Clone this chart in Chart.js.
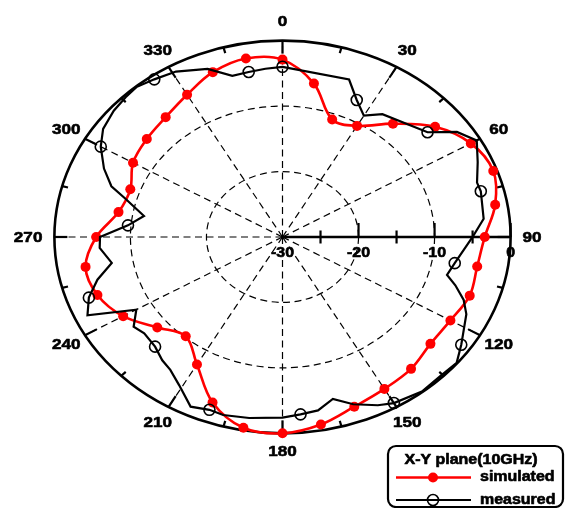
<!DOCTYPE html>
<html>
<head>
<meta charset="utf-8">
<script src="https://cdn.jsdelivr.net/npm/chart.js@4/dist/chart.umd.min.js"></script>
<style>
  html, body { margin: 0; padding: 0; background: #fff; }
  #wrap { width: 565px; height: 508px; position: relative; }
</style>
</head>
<body>
<div id="wrap"><canvas id="c" width="565" height="508"></canvas></div>
<script>
// Angular grid (degrees, clockwise from top) and its labels
const angleTicks = [0, 30, 60, 90, 120, 150, 180, 210, 240, 270, 300, 330];
const angleTickLabels = ['0', '30', '60', '90', '120', '150', '180', '210', '240', '270', '300', '330'];
const minorAngleStep = 15;

// Radial axis (dB), drawn along the 90 degree direction
const radialTicks = [-30, -20, -10, 0];
const radialTickLabels = ['-30', '-20', '-10', '0'];
const radialMinorStep = 5;
const radialMin = -30;
const radialMax = 0;
const radialAxisAngle = 90;

// Simulated pattern, one value every 10 degrees
const simulatedAngles = [0, 10, 20, 30, 40, 50, 60, 70, 80, 90, 100, 110, 120, 130, 140, 150, 160, 170,
  180, 190, 200, 210, 220, 230, 240, 250, 260, 270, 280, 290, 300, 310, 320, 330, 340, 350];
const simulatedDb = [-2.9, -6.2, -10.9, -10.4, -7.4, -3.8, -1.4, -0.5, -1.6, -3.4, -4.0, -3.8, -4.5, -4.6,
  -3.7, -3.2, -2.4, -0.9, 0.0, -0.4, -3.1, -7.5, -10.2, -8.5, -5.8, -4.1, -3.7, -5.5, -8.1, -8.7,
  -7.3, -6.7, -6.1, -4.9, -3.2, -2.3];

// Measured pattern
const measuredAngles = [0, 20, 25, 30, 35, 50, 55, 60, 66, 72, 75, 84, 90, 100, 105, 108, 112, 116, 122,
  125, 130, 136, 142, 150, 154, 160, 165, 170, 175, 180, 189, 196, 200, 205, 211, 216, 220, 225, 231,
  235, 240, 245, 250, 255, 260, 266, 270, 275, 280, 286, 289, 294, 300, 305, 311, 316, 320, 325, 331,
  339, 345, 350, 355];
const measuredDb = [-4.0, -4.4, -6.9, -8.6, -7.1, -5.1, -2.0, -0.5, -1.9, -3.1, -3.0, -3.4, -5.0, -7.0,
  -7.6, -6.1, -4.3, -3.1, -2.0, -1.3, -0.1, -0.3, -0.1, -0.7, -1.4, -2.8, -4.4, -3.1, -2.8, -2.4, -2.0,
  -1.7, -1.9, -1.4, -3.6, -4.9, -5.4, -6.3, -6.6, -6.1, -7.8, -1.7, -2.9, -4.8, -7.2, -5.9, -6.0, -9.6,
  -11.5, -8.4, -6.2, -4.3, -2.4, -1.2, -0.6, -0.3, -0.1, -0.6, -1.1, -2.5, -4.5, -4.4, -4.2];
const measuredMarkerAngles = [0, 25, 50, 75, 100, 125, 150, 175, 200, 225, 250, 275, 300, 325, 350];

const seriesNames = ['simulated', 'measured'];
const legendTitle = 'X-Y plane(10GHz)';

// Polar (angle, dB) -> normalised cartesian point on the unit plot
function toPoint(angleDeg, db) {
  const r = (db - radialMin) / (radialMax - radialMin);
  const a = angleDeg * Math.PI / 180;
  return { x: r * Math.sin(a), y: r * Math.cos(a), angle: angleDeg };
}

const simulatedPoints = simulatedAngles.map((a, i) => toPoint(a, simulatedDb[i]));
const measuredPoints = measuredAngles.map((a, i) => toPoint(a, measuredDb[i]));

const FONT = '"Liberation Sans", Arial, Helvetica, sans-serif';
const TEXT_STRETCH = 1.14;

// Bold text, widened horizontally and slightly outlined for weight
function stretchedText(ctx, text, x, y, align) {
  ctx.save();
  ctx.translate(x, y);
  ctx.scale(TEXT_STRETCH, 1);
  ctx.textAlign = align;
  ctx.textBaseline = 'middle';
  ctx.lineWidth = 0.6;
  ctx.strokeStyle = ctx.fillStyle;
  ctx.lineJoin = 'round';
  ctx.fillText(text, 0, 0);
  ctx.strokeText(text, 0, 0);
  ctx.restore();
}

function geometry(chart) {
  const { x, y } = chart.scales;
  const cx = x.getPixelForValue(0);
  const cy = y.getPixelForValue(0);
  const rx = x.getPixelForValue(1) - cx;
  const ry = cy - y.getPixelForValue(1);
  return { cx, cy, rx, ry };
}

// Closes the line of datasets flagged with closedLoop
const loopLines = {
  id: 'loopLines',
  afterDatasetUpdate(chart, args) {
    const ds = chart.data.datasets[args.index];
    if (ds.closedLoop && args.meta.dataset) {
      args.meta.dataset._loop = true;
      args.meta.dataset._fullLoop = true;
      delete args.meta.dataset._segments;
      args.meta.dataset._pointsUpdated = false;
    }
  }
};

// Polar frame: rings, spokes, outer ticks, radial axis and all labels
const polarFrame = {
  id: 'polarFrame',
  beforeDatasetsDraw(chart) {
    const ctx = chart.ctx;
    const { cx, cy, rx, ry } = geometry(chart);
    const frac = v => (v - radialMin) / (radialMax - radialMin);
    const at = (deg, f) => {
      const a = deg * Math.PI / 180;
      return [cx + rx * f * Math.sin(a), cy - ry * f * Math.cos(a)];
    };
    ctx.save();
    ctx.strokeStyle = '#000';
    ctx.fillStyle = '#000';

    // dashed rings
    ctx.setLineDash([7, 4.5]);
    ctx.lineWidth = 1.2;
    radialTicks.forEach(v => {
      const f = frac(v);
      if (f > 0 && f < 1) {
        ctx.beginPath();
        ctx.ellipse(cx, cy, rx * f, ry * f, 0, 0, Math.PI * 2);
        ctx.stroke();
      }
    });
    // dashed spokes
    angleTicks.forEach(deg => {
      if (deg === radialAxisAngle) return;
      const [px, py] = at(deg, 1);
      ctx.beginPath();
      ctx.moveTo(cx, cy);
      ctx.lineTo(px, py);
      ctx.stroke();
    });
    ctx.setLineDash([]);

    // outer ring
    ctx.lineWidth = 2.6;
    ctx.beginPath();
    ctx.ellipse(cx, cy, rx, ry, 0, 0, Math.PI * 2);
    ctx.stroke();

    // inward ticks on the outer ring
    ctx.lineWidth = 2.2;
    for (let deg = 0; deg < 360; deg += minorAngleStep) {
      const [px, py] = at(deg, 1);
      const dx = cx - px, dy = cy - py;
      const len = Math.hypot(dx, dy);
      const t = (deg % 30 === 0) ? 13 : 6;
      ctx.beginPath();
      ctx.moveTo(px, py);
      ctx.lineTo(px + dx / len * t, py + dy / len * t);
      ctx.stroke();
    }

    // radial axis
    const [ax, ay] = at(radialAxisAngle, 1);
    ctx.lineWidth = 2.6;
    ctx.beginPath();
    ctx.moveTo(cx, cy);
    ctx.lineTo(ax, ay);
    ctx.stroke();
    ctx.lineWidth = 2.2;
    for (let v = radialMin + radialMinorStep; v <= radialMax; v += radialMinorStep) {
      const [tx, ty] = at(radialAxisAngle, frac(v));
      ctx.beginPath();
      if (v % 10 === 0) {
        ctx.moveTo(tx, ty);
        ctx.lineTo(tx, ty - 14);
      } else {
        ctx.moveTo(tx, ty - 6.5);
        ctx.lineTo(tx, ty + 6.5);
      }
      ctx.stroke();
    }

    // radial labels
    ctx.font = 'bold 14px ' + FONT;
    radialTicks.forEach((v, i) => {
      const [tx, ty] = at(radialAxisAngle, frac(v));
      stretchedText(ctx, radialTickLabels[i], tx, ty + 16.5, 'center');
    });

    // angle labels
    ctx.font = 'bold 15px ' + FONT;
    const ratio = rx / ry;
    angleTicks.forEach((deg, i) => {
      const a = deg * Math.PI / 180;
      const s = Math.sin(a), c = Math.cos(a);
      const [px, py] = at(deg, 1);
      if (Math.abs(s) > 0.99) {
        stretchedText(ctx, angleTickLabels[i], px + Math.sign(s) * 12, py + 1.3, s > 0 ? 'left' : 'right');
      } else {
        stretchedText(ctx, angleTickLabels[i], px + 18.5 * ratio * s, py - 18.5 * c, 'center');
      }
    });
    ctx.restore();
  },

  afterDraw(chart) {
    const ctx = chart.ctx;
    const box = { x: 388, y: 446, w: 175, h: 61, r: 8 };
    ctx.save();
    ctx.fillStyle = '#fff';
    ctx.strokeStyle = '#000';
    ctx.lineWidth = 2.2;
    ctx.beginPath();
    ctx.roundRect(box.x, box.y, box.w, box.h, box.r);
    ctx.fill();
    ctx.stroke();

    ctx.fillStyle = '#000';
    ctx.font = 'bold 14px ' + FONT;
    stretchedText(ctx, legendTitle, box.x + 83, box.y + 14.5, 'center');

    const rows = [477.5, 500];
    chart.data.datasets.forEach((ds, i) => {
      const yRow = rows[i];
      ctx.strokeStyle = ds.borderColor;
      ctx.lineWidth = ds.borderWidth;
      ctx.beginPath();
      ctx.moveTo(396, yRow);
      ctx.lineTo(471, yRow);
      ctx.stroke();
      ctx.beginPath();
      ctx.arc(433, yRow, ds.legendMarkerRadius, 0, Math.PI * 2);
      if (ds.legendMarkerFill) {
        ctx.fillStyle = ds.legendMarkerFill;
        ctx.fill();
      } else {
        ctx.lineWidth = ds.pointBorderWidth;
        ctx.strokeStyle = ds.pointBorderColor;
        ctx.stroke();
      }
      ctx.fillStyle = '#000';
      stretchedText(ctx, ds.label, 480, yRow, 'left');
    });
    ctx.restore();
  }
};

new Chart(document.getElementById('c'), {
  type: 'line',
  data: {
    datasets: [
      {
        label: seriesNames[0],
        data: simulatedPoints,
        closedLoop: true,
        borderColor: '#ff0000',
        borderWidth: 2.6,
        tension: 0.35,
        pointRadius: 5,
        pointBackgroundColor: '#ff0000',
        pointBorderWidth: 0,
        legendMarkerRadius: 5,
        legendMarkerFill: '#ff0000',
        order: 2
      },
      {
        label: seriesNames[1],
        data: measuredPoints,
        closedLoop: true,
        borderColor: '#000000',
        borderWidth: 2.2,
        tension: 0,
        pointRadius: c => (c.raw && measuredMarkerAngles.includes(c.raw.angle)) ? 5.5 : 0,
        pointBackgroundColor: 'rgba(0,0,0,0)',
        pointBorderColor: '#000000',
        pointBorderWidth: 1.6,
        legendMarkerRadius: 5.5,
        order: 1
      }
    ]
  },
  options: {
    responsive: false,
    animation: false,
    devicePixelRatio: 1,
    layout: { padding: 0 },
    scales: {
      x: { type: 'linear', min: -1.2073, max: 1.2073, display: false },
      y: { type: 'linear', min: -1.3441, max: 1.1708, display: false }
    },
    plugins: {
      legend: { display: false },
      tooltip: { enabled: false }
    }
  },
  plugins: [loopLines, polarFrame]
});
</script>
</body>
</html>
